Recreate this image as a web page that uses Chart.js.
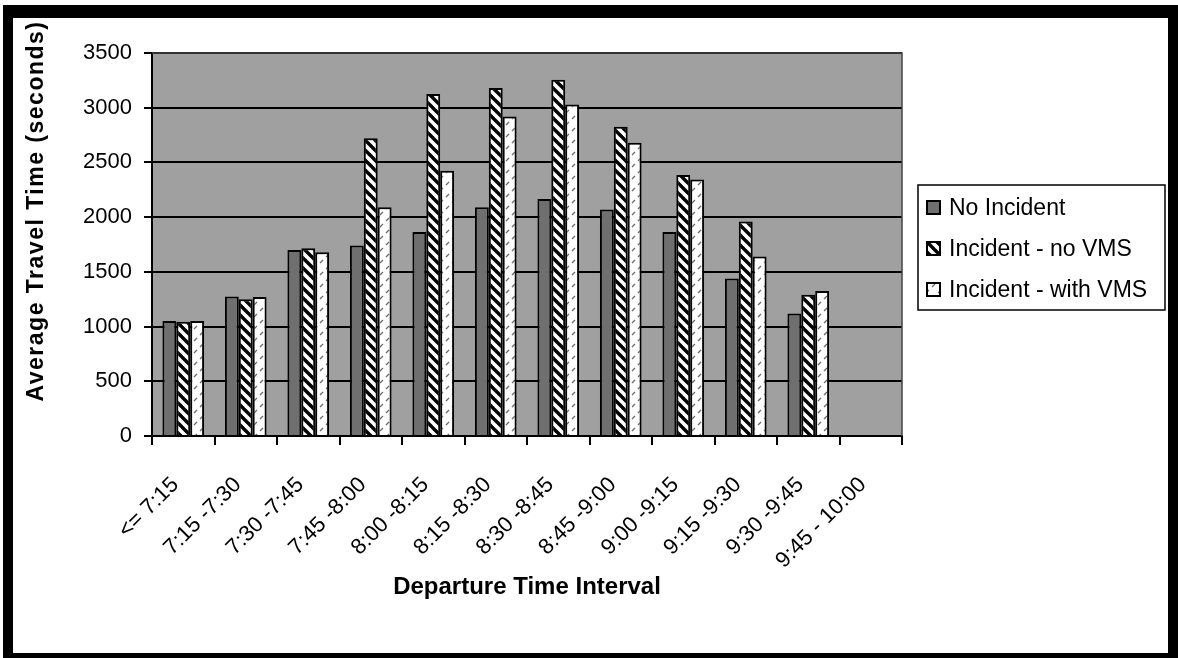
<!DOCTYPE html>
<html>
<head>
<meta charset="utf-8">
<title>Average Travel Time by Departure Interval</title>
<script src="https://cdn.jsdelivr.net/npm/chart.js@4.4.1/dist/chart.umd.min.js"></script>
<style>
  html, body { margin: 0; padding: 0; background: #fff; }
  #frame {
    position: absolute; left: 3px; top: 5px;
    width: 1155px; height: 635px;
    border: solid #000; border-width: 13px 10px 10px 10px;
  }
  canvas { display: block; }
</style>
</head>
<body>
<div id="frame"><canvas id="travelChart" width="1155" height="635"></canvas></div>
<script>
/* departure intervals and average travel times (seconds) */
const intervals = ['<= 7:15', '7:15 -7:30', '7:30 -7:45', '7:45 -8:00', '8:00 -8:15', '8:15 -8:30',
                   '8:30 -8:45', '8:45 -9:00', '9:00 -9:15', '9:15 -9:30', '9:30 -9:45', '9:45 - 10:00'];
const noIncident      = [1050, 1275, 1700, 1740, 1865, 2090, 2165, 2070, 1865, 1440, 1120, null];
const incidentNoVms   = [1045, 1250, 1715, 2720, 3125, 3180, 3255, 2825, 2385, 1960, 1290, null];
const incidentWithVms = [1050, 1270, 1680, 2090, 2425, 2920, 3030, 2680, 2345, 1640, 1325, null];
const yTicks = [0, 500, 1000, 1500, 2000, 2500, 3000, 3500];
const seriesNames = ['No Incident', 'Incident - no VMS', 'Incident - with VMS'];
const yTitle = 'Average Travel Time (seconds)';
const xTitle = 'Departure Time Interval';

const FONT = '"Liberation Sans", Arial, Helvetica, sans-serif';
Chart.defaults.font.family = FONT;
Chart.defaults.color = '#000';

/* ── fill patterns ── */
function makePattern(size, draw) {
    const c = document.createElement('canvas');
    c.width = size; c.height = size;
    const g = c.getContext('2d');
    g.fillStyle = '#fff';
    g.fillRect(0, 0, size, size);
    draw(g, size);
    return c.getContext('2d').createPattern(c, 'repeat');
}

// wide downward diagonal, black on white
const hatchDown = makePattern(10, (g, s) => {
    g.strokeStyle = '#000';
    g.lineWidth = 3.4;
    [-s, 0, s].forEach(o => {
        g.beginPath(); g.moveTo(o - 1, -1); g.lineTo(o + s + 1, s + 1); g.stroke();
    });
});

// dashed upward diagonal, grey on white
const dashUp = makePattern(12, (g) => {
    g.strokeStyle = '#6a6a6a';
    g.lineWidth = 1.3;
    g.beginPath(); g.moveTo(1, 11); g.lineTo(4, 8); g.stroke();
    g.beginPath(); g.moveTo(7, 5);  g.lineTo(10, 2); g.stroke();
});

const seriesFills = ['#6f6f6f', hatchDown, dashUp];

/* ── plugins ── */
const plotBackground = {
    id: 'plotBackground',
    beforeDraw(chart) {
        const { ctx, chartArea: a } = chart;
        ctx.save();
        ctx.fillStyle = '#a0a0a0';
        ctx.fillRect(a.left, a.top, a.right - a.left, a.bottom - a.top);
        ctx.restore();
    },
    afterDraw(chart) {
        const { ctx, chartArea: a } = chart;
        ctx.save();
        ctx.strokeStyle = '#444';
        ctx.lineWidth = 1.5;
        ctx.beginPath();
        ctx.moveTo(a.left, a.top);
        ctx.lineTo(a.right, a.top);
        ctx.lineTo(a.right, a.bottom);
        ctx.stroke();
        ctx.restore();
    }
};

const axisTitles = {
    id: 'axisTitles',
    afterDraw(chart) {
        const { ctx, chartArea: a } = chart;
        ctx.save();
        ctx.fillStyle = '#000';
        ctx.textAlign = 'center';
        ctx.textBaseline = 'middle';
        ctx.font = 'bold 24px ' + FONT;
        ctx.fillText(xTitle, (a.left + a.right) / 2, 569);
        ctx.font = 'bold 23px ' + FONT;
        ctx.letterSpacing = '1.5px';
        ctx.translate(24, 193);
        ctx.rotate(-Math.PI / 2);
        ctx.fillText(yTitle, 0, 0);
        ctx.restore();
    }
};

const boxLegend = {
    id: 'boxLegend',
    afterDraw(chart) {
        const { ctx } = chart;
        const box = { x: 905, y: 167, w: 247, h: 125 };
        ctx.save();
        ctx.fillStyle = '#fff';
        ctx.fillRect(box.x, box.y, box.w, box.h);
        ctx.strokeStyle = '#000';
        ctx.lineWidth = 1.5;
        ctx.strokeRect(box.x, box.y, box.w, box.h);
        ctx.font = '23px ' + FONT;
        ctx.textBaseline = 'middle';
        chart.data.datasets.forEach((ds, i) => {
            const cy = box.y + 23 + i * 41;
            ctx.fillStyle = ds.backgroundColor;
            ctx.fillRect(box.x + 9, cy - 7, 13, 13);
            ctx.lineWidth = 2;
            ctx.strokeRect(box.x + 9, cy - 7, 13, 13);
            ctx.fillStyle = '#000';
            ctx.fillText(ds.label, box.x + 31, cy + 1);
        });
        ctx.restore();
    }
};

/* ── chart ── */
new Chart(document.getElementById('travelChart').getContext('2d'), {
    type: 'bar',
    data: {
        labels: intervals,
        datasets: [noIncident, incidentNoVms, incidentWithVms].map((values, i) => ({
            label: seriesNames[i],
            data: values,
            backgroundColor: seriesFills[i],
            borderColor: '#000',
            borderWidth: 2,
            borderSkipped: 'bottom',
            categoryPercentage: 0.667,
            barPercentage: 1
        }))
    },
    options: {
        responsive: false,
        animation: false,
        events: [],
        layout: { padding: { top: 35, right: 266, bottom: 0, left: 0 } },
        plugins: { legend: { display: false }, tooltip: { enabled: false } },
        scales: {
            x: {
                offset: true,
                grid: { offset: true, drawOnChartArea: false, color: '#000', lineWidth: 2, tickLength: 9 },
                border: { color: '#000', width: 2 },
                ticks: { font: { size: 22 }, maxRotation: 45, minRotation: 45, padding: 27, labelOffset: -8, autoSkip: false },
                afterFit(scale) { scale.height = 217; }
            },
            y: {
                min: 0, max: 3500,
                afterBuildTicks(scale) { scale.ticks = yTicks.map(v => ({ value: v })); },
                grid: { color: '#000', lineWidth: 2, tickLength: 8 },
                border: { color: '#000', width: 2 },
                ticks: { font: { size: 22 }, padding: 12, callback: v => String(v) },
                afterFit(scale) { scale.width = 139; }
            }
        }
    },
    plugins: [plotBackground, axisTitles, boxLegend]
});
</script>
</body>
</html>
